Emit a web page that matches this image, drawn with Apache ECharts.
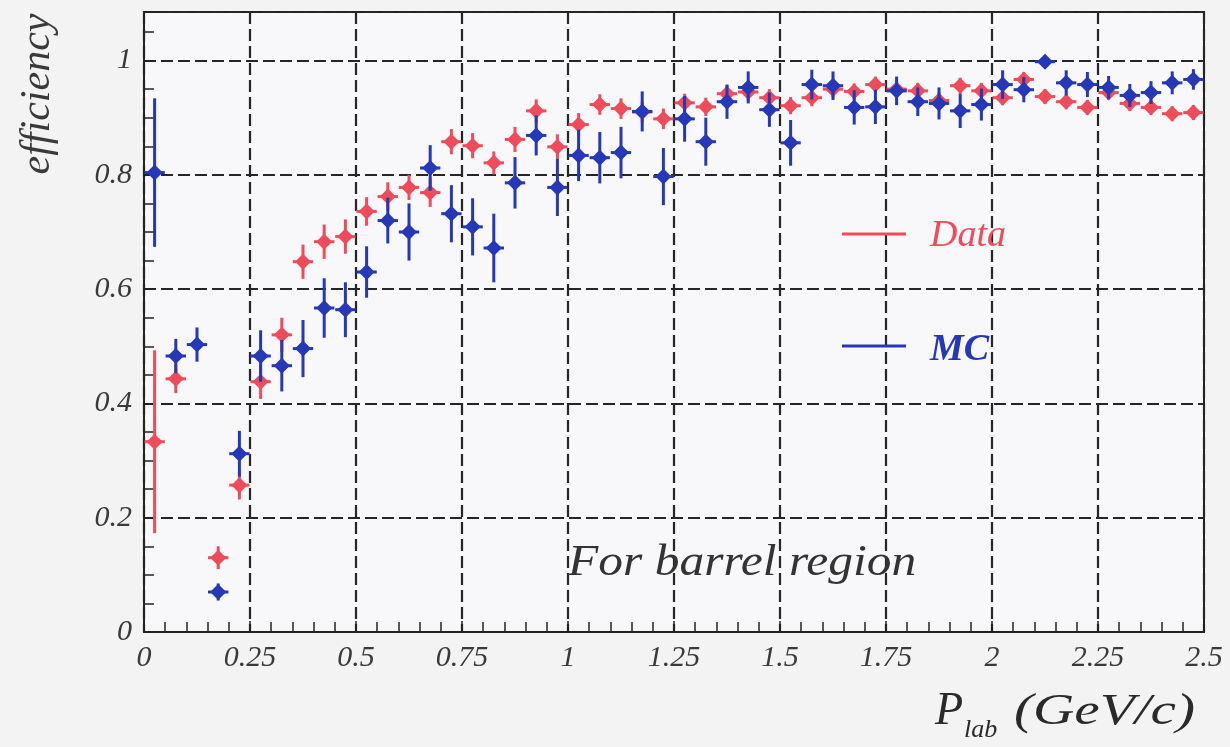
<!DOCTYPE html>
<html>
<head>
<meta charset="utf-8">
<script src="https://cdn.jsdelivr.net/npm/echarts@6/dist/echarts.min.js"></script>
<style>
  html, body { margin: 0; padding: 0; background: #f3f3f4; }
  #chart { width: 1230px; height: 747px; }
</style>
</head>
<body>
<div id="chart"></div>
<script>
// bin centres in P_lab (GeV/c)
const pBins = [0.025, 0.075, 0.125, 0.175, 0.225, 0.275, 0.325, 0.375, 0.425, 0.475,
  0.525, 0.575, 0.625, 0.675, 0.725, 0.775, 0.825, 0.875, 0.925, 0.975,
  1.025, 1.075, 1.125, 1.175, 1.225, 1.275, 1.325, 1.375, 1.425, 1.475,
  1.525, 1.575, 1.625, 1.675, 1.725, 1.775, 1.825, 1.875, 1.925, 1.975,
  2.025, 2.075, 2.125, 2.175, 2.225, 2.275, 2.325, 2.375, 2.425, 2.475];

// Data efficiency (red)
const dataEff = [0.333, 0.443, null, 0.130, 0.257, 0.438, 0.520, 0.648, 0.683, 0.692,
  0.736, 0.762, 0.778, 0.769, 0.858, 0.851, 0.821, 0.862, 0.912, 0.849,
  0.888, 0.923, 0.916, 0.910, 0.898, 0.926, 0.919, 0.942, 0.945, 0.935,
  0.921, 0.935, 0.950, 0.946, 0.958, 0.950, 0.947, 0.930, 0.956, 0.947,
  0.935, 0.967, 0.937, 0.928, 0.918, 0.944, 0.925, 0.918, 0.907, 0.909];
const dataErr = [0.16, 0.025, null, 0.02, 0.025, 0.03, 0.03, 0.03, 0.03, 0.03,
  0.025, 0.025, 0.022, 0.025, 0.022, 0.022, 0.02, 0.022, 0.02, 0.022,
  0.02, 0.018, 0.018, 0.018, 0.018, 0.016, 0.016, 0.015, 0.015, 0.015,
  0.015, 0.015, 0.015, 0.014, 0.014, 0.014, 0.014, 0.014, 0.014, 0.014,
  0.013, 0.013, 0.013, 0.013, 0.013, 0.013, 0.013, 0.013, 0.013, 0.013];

// MC efficiency (blue)
const mcEff = [0.804, 0.483, 0.503, 0.070, 0.312, 0.483, 0.466, 0.496, 0.567, 0.564,
  0.630, 0.720, 0.700, 0.812, 0.732, 0.709, 0.672, 0.786, 0.869, 0.778,
  0.834, 0.830, 0.839, 0.911, 0.797, 0.898, 0.858, 0.928, 0.953, 0.914,
  0.856, 0.958, 0.956, 0.918, 0.919, 0.947, 0.928, 0.925, 0.912, 0.923,
  0.958, 0.949, 0.998, 0.961, 0.958, 0.953, 0.939, 0.944, 0.961, 0.967];
const mcErr = [0.13, 0.03, 0.03, 0.015, 0.04, 0.045, 0.045, 0.05, 0.052, 0.048,
  0.045, 0.04, 0.05, 0.04, 0.05, 0.05, 0.06, 0.045, 0.035, 0.05,
  0.045, 0.045, 0.045, 0.035, 0.05, 0.04, 0.042, 0.03, 0.028, 0.03,
  0.04, 0.026, 0.025, 0.03, 0.03, 0.025, 0.025, 0.028, 0.03, 0.028,
  0.025, 0.022, 0.006, 0.022, 0.022, 0.02, 0.02, 0.02, 0.02, 0.018];

const xTicks = ['0', '0.25', '0.5', '0.75', '1', '1.25', '1.5', '1.75', '2', '2.25', '2.5'];

const RED = '#ef4b5b';
const BLUE = '#2637b8';
const SERIF = '"Liberation Serif", "DejaVu Serif", serif';

function points(vals, errs) {
  let out = [];
  pBins.forEach((p, i) => {
    if (vals[i] != null) out.push([p, vals[i], errs[i]]);
  });
  return out;
}

function errItem(color) {
  return function (params, api) {
    let x = api.value(0), y = api.value(1), e = api.value(2);
    let c = api.coord([x, y]);
    let top = api.coord([x, y + e]);
    let bot = api.coord([x, Math.max(0, y - e)]);
    let l = api.coord([x - 0.024, y]);
    let r = api.coord([x + 0.024, y]);
    let s = 8;
    let line = {stroke: color, lineWidth: 3};
    return {
      type: 'group',
      children: [
        {type: 'line', shape: {x1: c[0], y1: top[1], x2: c[0], y2: bot[1]}, style: line},
        {type: 'line', shape: {x1: l[0], y1: c[1], x2: r[0], y2: c[1]}, style: line},
        {type: 'polygon', shape: {points: [[c[0], c[1] - s], [c[0] + s, c[1]], [c[0], c[1] + s], [c[0] - s, c[1]]]},
          style: {fill: color}}
      ]
    };
  };
}

let chart = echarts.init(document.getElementById('chart'));
let option = {
  animation: false,
  backgroundColor: '#f3f3f4',
  grid: {
    left: 144, right: 26, top: 12, bottom: 115,
    show: true, backgroundColor: '#f8f8fa', borderColor: '#222', borderWidth: 2
  },
  xAxis: {
    type: 'value', min: 0, max: 2.5, interval: 0.25,
    axisLine: {show: true, onZero: false, lineStyle: {color: '#222', width: 2}},
    axisTick: {show: true, inside: true, length: 11, lineStyle: {color: '#222', width: 1.5}},
    minorTick: {show: true, splitNumber: 5, length: 10, lineStyle: {color: '#222', width: 1.5}},
    splitLine: {show: true, lineStyle: {color: '#262626', width: 2.2, type: [12, 5]}},
    axisLabel: {
      margin: 11, color: '#3a3a3a', fontSize: 30, fontStyle: 'italic', fontFamily: SERIF,
      formatter: (v) => xTicks[Math.round(v / 0.25)]
    }
  },
  yAxis: {
    type: 'value', min: 0, max: 1.085, interval: 0.2,
    axisLine: {show: true, lineStyle: {color: '#222', width: 2}},
    axisTick: {show: true, inside: true, length: 11, lineStyle: {color: '#222', width: 1.5}},
    minorTick: {show: true, splitNumber: 4, length: 10, lineStyle: {color: '#222', width: 1.5}},
    splitLine: {show: true, lineStyle: {color: '#262626', width: 2.2, type: [12, 5]}},
    axisLabel: {
      margin: 12, color: '#3a3a3a', fontSize: 30, fontStyle: 'italic', fontFamily: SERIF,
      showMaxLabel: false,
      formatter: (v) => (v > 1.01 ? '' : String(Math.round(v * 10) / 10))
    }
  },
  series: [
    {
      name: 'Data', type: 'custom', renderItem: errItem(RED),
      encode: {x: 0, y: 1}, data: points(dataEff, dataErr), z: 3
    },
    {
      name: 'MC', type: 'custom', renderItem: errItem(BLUE),
      encode: {x: 0, y: 1}, data: points(mcEff, mcErr), z: 4
    }
  ],
  graphic: [
    {type: 'text', x: 38, y: 94, rotation: Math.PI / 2, z: 10,
      style: {text: 'efficiency', font: 'italic 42px ' + SERIF, fill: '#3a3a3a',
        textAlign: 'center', textVerticalAlign: 'middle'}},
    {type: 'text', x: 935, y: 712, z: 10,
      style: {text: 'P', font: 'italic 46px ' + SERIF, fill: '#2a2a2a', textVerticalAlign: 'middle'}},
    {type: 'text', x: 964, y: 730, z: 10,
      style: {text: 'lab', font: 'italic 26px ' + SERIF, fill: '#2a2a2a', textVerticalAlign: 'middle'}},
    {type: 'text', x: 1014, y: 712, z: 10, scaleX: 1.3,
      style: {text: '(GeV/c)', font: 'italic 44px ' + SERIF, fill: '#2a2a2a', textVerticalAlign: 'middle'}},
    {type: 'line', z: 10, shape: {x1: 842, y1: 234, x2: 906, y2: 234}, style: {stroke: RED, lineWidth: 3}},
    {type: 'text', x: 930, y: 236, z: 10,
      style: {text: 'Data', font: 'italic 38px ' + SERIF, fill: RED, textVerticalAlign: 'middle'}},
    {type: 'line', z: 10, shape: {x1: 842, y1: 346, x2: 906, y2: 346}, style: {stroke: BLUE, lineWidth: 3}},
    {type: 'text', x: 930, y: 350, z: 10,
      style: {text: 'MC', font: 'italic bold 38px ' + SERIF, fill: BLUE, textVerticalAlign: 'middle'}},
    {type: 'text', x: 568, y: 563, z: 10, scaleX: 1.1,
      style: {text: 'For barrel region', font: 'italic 45px ' + SERIF, fill: '#333', textVerticalAlign: 'middle'}}
  ]
};
chart.setOption(option);
</script>
</body>
</html>
